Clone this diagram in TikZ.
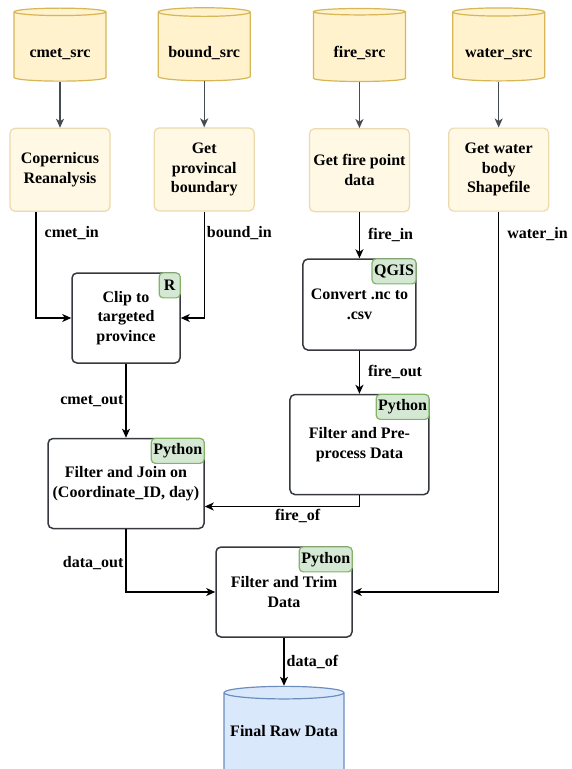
\documentclass[tikz,border=0pt]{standalone}
\usepackage{fontspec}
\setmainfont{Liberation Serif}
\usetikzlibrary{arrows.meta,positioning,shapes.geometric}

\definecolor{srcfill}{HTML}{FFF2CC}
\definecolor{srcline}{HTML}{D6B656}
\definecolor{prepfill}{HTML}{FFF8E5}
\definecolor{prepline}{HTML}{EBDAAB}
\definecolor{toolfill}{HTML}{D5E8D4}
\definecolor{toolline}{HTML}{82B366}
\definecolor{taskline}{HTML}{36393D}
\definecolor{feedline}{HTML}{474B52}
\definecolor{outfill}{HTML}{DAE8FC}
\definecolor{outline}{HTML}{6C8EBF}

\begin{document}
\begin{tikzpicture}[
  x=1pt, y=-1pt,
  font=\fontsize{16}{19.5}\selectfont\bfseries,
  store/.style={cylinder, shape border rotate=90, aspect=0.11, line width=1.2pt},
  src/.style={store, draw=srcline, fill=srcfill, minimum width=92pt, minimum height=73pt, text height=23pt},
  prep/.style={draw=prepline, fill=prepfill, line width=1.2pt, rounded corners=5pt, align=center, minimum width=100pt, minimum height=83pt},
  task/.style={draw=taskline, fill=white, line width=1.5pt, rounded corners=5pt, align=center},
  tool/.style={draw=toolline, fill=toolfill, line width=1.2pt, rounded corners=4pt, anchor=north east, inner xsep=2pt, inner ysep=0pt, minimum height=25pt},
  feed/.style={-{Stealth[length=9pt, width=8pt, inset=2.5pt]}, line width=1.3pt, draw=feedline},
  flow/.style={-{Stealth[length=9pt, width=8pt, inset=2.5pt]}, line width=1.3pt, draw=black},
  lbl/.style={inner sep=2pt}
]
\useasboundingbox (0,0) rectangle (571,769);

% sources
\node[src] (cmetsrc) at (60,47.5) {cmet\_src};
\node[src, right=51pt of cmetsrc] (boundsrc) {bound\_src};
\node[src, right=62pt of boundsrc] (firesrc) {fire\_src};
\node[src, right=46pt of firesrc] (watersrc) {water\_src};

% getting the data
\node[prep, below=46pt of cmetsrc] (copernicus) {Copernicus\\Reanalysis};
\node[prep, below=46pt of boundsrc] (province) {Get\\provincal\\boundary};
\node[prep, below=46pt of firesrc] (firepoint) {Get fire point\\data};
\node[prep, below=46pt of watersrc] (waterbody) {Get water\\body\\Shapefile};

\draw[feed] (cmetsrc) -- (copernicus);
\draw[feed] (boundsrc) -- (province);
\draw[feed] (firesrc) -- (firepoint);
\draw[feed] (watersrc) -- (waterbody);

% processing steps
\node[task, minimum width=108pt, minimum height=90pt] (clip) at (126,318) {Clip to\\targeted\\province};
\node[tool, minimum width=21pt] at (clip.north east) {R};
\node[task, below=46pt of firepoint, minimum width=113pt, minimum height=91pt] (convert) {Convert .nc to\\.csv};
\node[tool] at (convert.north east) {QGIS};
\node[task, below=43pt of convert, minimum width=139pt, minimum height=100pt] (prepro) {Filter and Pre-\\process Data};
\node[tool] at (prepro.north east) {Python};
\node[task, below=74pt of clip, minimum width=156pt, minimum height=90pt] (join) {Filter and Join on\\(Coordinate\_ID, day)};
\node[tool] at (join.north east) {Python};
\node[task, minimum width=136pt, minimum height=90pt] (trim) at (284,592) {Filter and Trim\\Data};
\node[tool] at (trim.north east) {Python};

% result
\node[store, draw=outline, fill=outfill, minimum width=120pt, minimum height=100pt, text depth=20pt, below=48pt of trim] (final) {Final Raw Data};

% data flow
\draw[flow] ([xshift=-24pt]copernicus.south) |- node[lbl, right, pos=0.1, xshift=6pt] {cmet\_in} (clip.west);
\draw[flow] (province.south) |- node[lbl, right, pos=0.1] {bound\_in} (clip.east);
\draw[flow] (clip) -- node[lbl, left] {cmet\_out} (join);
\draw[flow] (firepoint) -- node[lbl, right, xshift=6pt] {fire\_in} (convert);
\draw[flow] (convert) -- node[lbl, right, xshift=6pt] {fire\_out} (prepro);
\draw[flow] (prepro.south) |- node[lbl, below, pos=0.7] {fire\_of} ([yshift=-23pt]join.east);
\draw[flow] (waterbody.south) |- node[lbl, right, pos=0.03, xshift=6pt] {water\_in} (trim.east);
\draw[flow] (join.south) |- node[lbl, left, pos=0.27] {data\_out} (trim.west);
\draw[flow] (trim) -- node[lbl, right] {data\_of} (final);

\end{tikzpicture}
\end{document}
